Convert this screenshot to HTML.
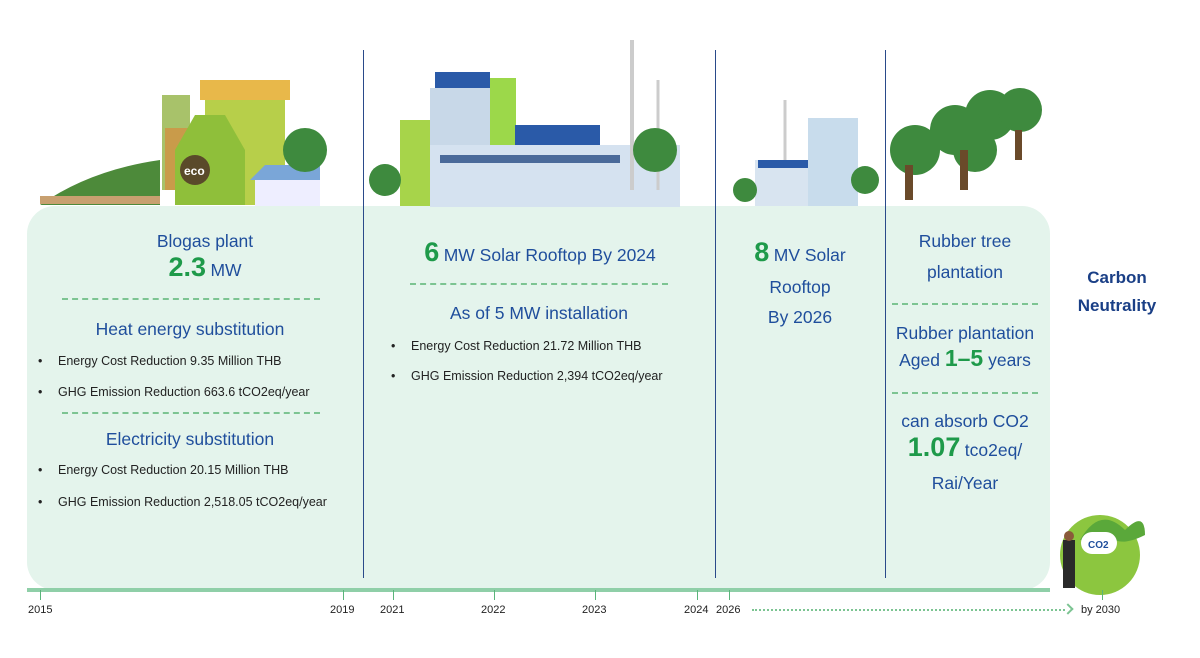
<!DOCTYPE html>
<html><head><meta charset="utf-8"><style>
body{margin:0;width:1200px;height:658px;background:#fff;position:relative;overflow:hidden;font-family:"Liberation Sans",sans-serif}
.a{position:absolute}
.b{color:#1f4e9c}.g{color:#1e9a4a;font-weight:bold}
.c{text-align:center}
.dash{position:absolute;border-top:2px dashed #7cc492;height:0}
.li{position:absolute;font-size:12.5px;color:#222}
.li:before{content:"•";position:absolute;left:-20px}
.vl{position:absolute;width:1px;background:#2a4a8a}
.tk{position:absolute;top:590px;width:1px;height:10px;background:#5ab47a}
.yl{position:absolute;top:604px;font-size:11px;color:#222}
.t{font-size:17.5px}
</style></head><body>
<div class="a" style="left:27px;top:206px;width:1023px;height:384px;background:#e4f4ec;border-radius:28px"></div>
<div class="a" style="left:27px;top:588px;width:1023px;height:4px;background:#8fcfa8"></div>
<div class="vl" style="left:363px;top:50px;height:528px"></div>
<div class="vl" style="left:715px;top:50px;height:528px"></div>
<div class="vl" style="left:885px;top:50px;height:528px"></div>

<svg class="a" style="left:0;top:0" width="1200" height="210">
<g>
<path d="M40 205 Q90 170 160 160 L160 205Z" fill="#4d8a3a"/>
<rect x="162" y="95" width="28" height="95" fill="#a8c26a"/><rect x="165" y="128" width="24" height="62" fill="#c99b4a"/>
<rect x="205" y="80" width="80" height="125" fill="#b7cf4a"/><rect x="200" y="80" width="90" height="20" fill="#e8b84a"/>
<polygon points="175,150 195,115 225,115 245,150 245,205 175,205" fill="#8fbf3a"/>
<circle cx="195" cy="170" r="15" fill="#5a4a2a"/>
<text x="184" y="175" font-size="12" fill="#fff" font-family="Liberation Sans" font-weight="bold">eco</text>
<rect x="255" y="178" width="65" height="28" fill="#eef"/><polygon points="250,180 265,165 320,165 320,180" fill="#7aa6d8"/>
<circle cx="305" cy="150" r="22" fill="#3e8a3e"/>
<rect x="40" y="196" width="120" height="8" fill="#c8a070"/>
</g>
<g>
<rect x="400" y="120" width="30" height="86" fill="#a7d44a"/>
<rect x="430" y="88" width="60" height="118" fill="#c8d8e8"/><rect x="490" y="78" width="26" height="80" fill="#9cd84a"/>
<rect x="430" y="145" width="250" height="62" fill="#d5e2f0"/><rect x="440" y="155" width="180" height="8" fill="#4a6a9a"/>
<rect x="515" y="125" width="85" height="20" fill="#2a5aa8"/><rect x="435" y="72" width="55" height="16" fill="#2a5aa8"/>
<line x1="632" y1="40" x2="632" y2="190" stroke="#ccc" stroke-width="4"/><line x1="658" y1="80" x2="658" y2="190" stroke="#ccc" stroke-width="3"/>
<circle cx="655" cy="150" r="22" fill="#3e8a3e"/><circle cx="385" cy="180" r="16" fill="#3e8a3e"/>
</g>
<g>
<rect x="755" y="160" width="70" height="46" fill="#d8e4f0"/><rect x="808" y="118" width="50" height="88" fill="#c8dcec"/>
<rect x="758" y="160" width="50" height="8" fill="#2a5aa8"/>
<line x1="785" y1="100" x2="785" y2="160" stroke="#ccc" stroke-width="3"/>
<circle cx="865" cy="180" r="14" fill="#3e8a3e"/><circle cx="745" cy="190" r="12" fill="#3e8a3e"/>
</g>
<g fill="#3e8a3e">
<circle cx="915" cy="150" r="25"/><circle cx="955" cy="130" r="25"/><circle cx="990" cy="115" r="25"/><circle cx="1020" cy="110" r="22"/><circle cx="975" cy="150" r="22"/>
<rect x="905" y="165" width="8" height="35" fill="#6a4a2a"/><rect x="960" y="150" width="8" height="40" fill="#6a4a2a"/><rect x="1015" y="130" width="7" height="30" fill="#6a4a2a"/>
</g>
</svg>

<div class="a b c t" style="left:90px;top:231px;width:230px">Blogas plant</div>
<div class="a c" style="left:90px;top:252px;width:230px"><span class="g" style="font-size:27px">2.3</span> <span class="b t">MW</span></div>
<div class="dash" style="left:62px;top:298px;width:258px"></div>
<div class="a b c" style="left:50px;top:319px;width:280px;font-size:17.5px">Heat energy substitution</div>
<div class="li" style="left:58px;top:354px">Energy Cost Reduction 9.35 Million THB</div>
<div class="li" style="left:58px;top:385px">GHG Emission Reduction 663.6 tCO2eq/year</div>
<div class="dash" style="left:62px;top:412px;width:258px"></div>
<div class="a b c t" style="left:50px;top:429px;width:280px">Electricity substitution</div>
<div class="li" style="left:58px;top:463px">Energy Cost Reduction 20.15 Million THB</div>
<div class="li" style="left:58px;top:495px">GHG Emission Reduction 2,518.05 tCO2eq/year</div>

<div class="a c" style="left:370px;top:237px;width:340px"><span class="g" style="font-size:27px">6</span> <span class="b t">MW Solar Rooftop By 2024</span></div>
<div class="dash" style="left:410px;top:283px;width:258px"></div>
<div class="a b c t" style="left:400px;top:303px;width:278px">As of 5 MW installation</div>
<div class="li" style="left:411px;top:339px">Energy Cost Reduction 21.72 Million THB</div>
<div class="li" style="left:411px;top:369px">GHG Emission Reduction 2,394 tCO2eq/year</div>

<div class="a c" style="left:730px;top:237px;width:140px"><span class="g" style="font-size:27px">8</span> <span class="b t">MV Solar</span></div>
<div class="a b c t" style="left:730px;top:277px;width:140px">Rooftop</div>
<div class="a b c t" style="left:730px;top:307px;width:140px">By 2026</div>

<div class="a b c t" style="left:885px;top:231px;width:160px">Rubber tree</div>
<div class="a b c t" style="left:885px;top:262px;width:160px">plantation</div>
<div class="dash" style="left:892px;top:303px;width:146px"></div>
<div class="a b c t" style="left:880px;top:323px;width:170px">Rubber plantation</div>
<div class="a c" style="left:880px;top:345px;width:170px"><span class="b t">Aged </span><span class="g" style="font-size:23px">1–5</span><span class="b t"> years</span></div>
<div class="dash" style="left:892px;top:392px;width:146px"></div>
<div class="a b c t" style="left:880px;top:411px;width:170px">can absorb CO2</div>
<div class="a c" style="left:880px;top:432px;width:170px"><span class="g" style="font-size:27px">1.07</span> <span class="b t">tco2eq/</span></div>
<div class="a b c t" style="left:880px;top:473px;width:170px">Rai/Year</div>

<div class="a c" style="left:1062px;top:264px;width:110px;font-size:17px;font-weight:bold;line-height:28px;color:#1a3f86">Carbon<br>Neutrality</div>
<svg class="a" style="left:1055px;top:500px" width="100" height="100">
<circle cx="45" cy="55" r="40" fill="#8cc63f"/><path d="M25 40 Q45 5 70 30 Q90 10 90 35 Q70 45 60 40Z" fill="#5aa83a"/>
<rect x="26" y="32" width="36" height="22" rx="11" fill="#fff"/><text x="33" y="48" font-size="10" font-weight="bold" fill="#1f4e9c" font-family="Liberation Sans">CO2</text>
<rect x="8" y="40" width="12" height="48" fill="#2a2a2a"/><circle cx="14" cy="36" r="5" fill="#8a5a3a"/>
</svg>

<div class="tk" style="left:40px"></div><div class="tk" style="left:343px"></div><div class="tk" style="left:393px"></div><div class="tk" style="left:494px"></div><div class="tk" style="left:595px"></div><div class="tk" style="left:697px"></div><div class="tk" style="left:729px"></div><div class="tk" style="left:1102px"></div>
<div class="yl" style="left:28px">2015</div><div class="yl" style="left:330px">2019</div><div class="yl" style="left:380px">2021</div><div class="yl" style="left:481px">2022</div><div class="yl" style="left:582px">2023</div><div class="yl" style="left:684px">2024</div><div class="yl" style="left:716px">2026</div><div class="yl" style="left:1081px">by 2030</div>
<div class="a" style="left:752px;top:609px;width:313px;border-top:2px dotted #7cc492"></div>
<div class="a" style="left:1064px;top:605px;width:6px;height:6px;border-top:2px solid #7cc492;border-right:2px solid #7cc492;transform:rotate(45deg)"></div>
</body></html>
